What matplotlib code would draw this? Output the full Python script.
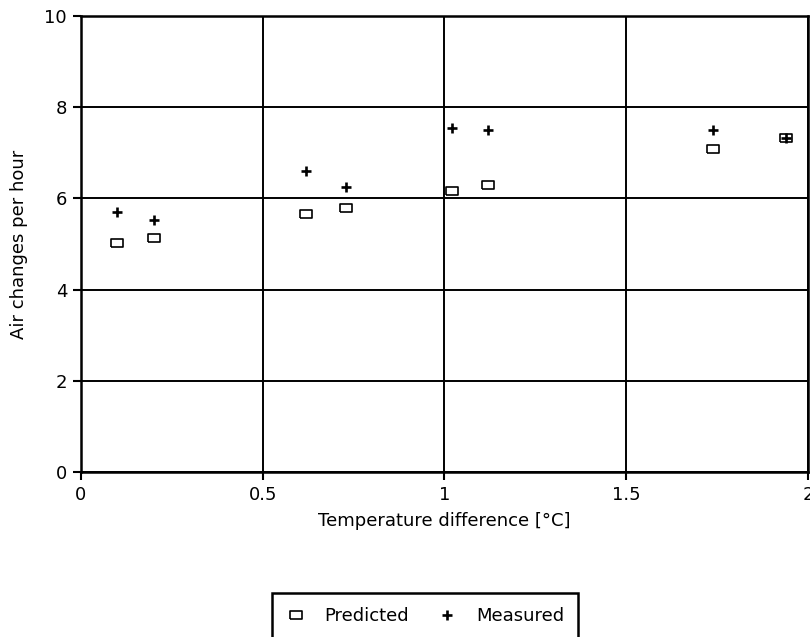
import matplotlib
matplotlib.use('Agg')
import matplotlib.pyplot as plt

# Data
temp_diff = [0.10, 0.20, 0.62, 0.73, 1.02, 1.12, 1.74, 1.94]
predicted = [5.02, 5.13, 5.66, 5.79, 6.16, 6.29, 7.08, 7.32]
measured = [5.70, 5.53, 6.60, 6.25, 7.54, 7.50, 7.50, 7.32]

xticks = [0, 0.5, 1, 1.5, 2]
xtick_labels = ['0', '0.5', '1', '1.5', '2']
yticks = [0, 2, 4, 6, 8, 10]

plt.rcParams['font.family'] = 'DejaVu Sans'

fig = plt.figure(figsize=(8.1, 6.37), dpi=100)
ax = fig.add_axes([0.1, 0.259, 0.8975, 0.716])

# rectangular open marker, wider than tall
rect = [(-1.4, -1), (1.4, -1), (1.4, 1), (-1.4, 1), (-1.4, -1)]

p1, = ax.plot(temp_diff, predicted, linestyle='none', marker=rect, markersize=8.5,
              markerfacecolor='none', markeredgecolor='black', markeredgewidth=1.2,
              label='Predicted')
p2, = ax.plot(temp_diff, measured, linestyle='none', marker='+', markersize=7,
              markeredgecolor='black', markeredgewidth=1.9, label='Measured')

ax.set_xlim(0, 2)
ax.set_ylim(0, 10)
ax.set_xticks(xticks)
ax.set_xticklabels(xtick_labels)
ax.set_yticks(yticks)
ax.grid(True, color='black', linewidth=1.4)
ax.set_axisbelow(True)
for s in ax.spines.values():
    s.set_linewidth(1.8)
ax.tick_params(direction='out', length=6, width=1.5, labelsize=13, pad=4)

ax.set_xlabel('Temperature difference [°C]', fontsize=13, labelpad=6)
ax.set_ylabel('Air changes per hour', fontsize=13, labelpad=12)

leg = fig.legend(handles=[p1, p2], loc='upper center', bbox_to_anchor=(0.525, 0.069),
                 ncol=2, fontsize=13, frameon=True, fancybox=False, framealpha=1,
                 handlelength=1.0, handletextpad=1.1, columnspacing=1.6,
                 borderpad=0.8, borderaxespad=0, edgecolor='black')
leg.get_frame().set_linewidth(1.8)

fig.savefig('out.png', dpi=100)
